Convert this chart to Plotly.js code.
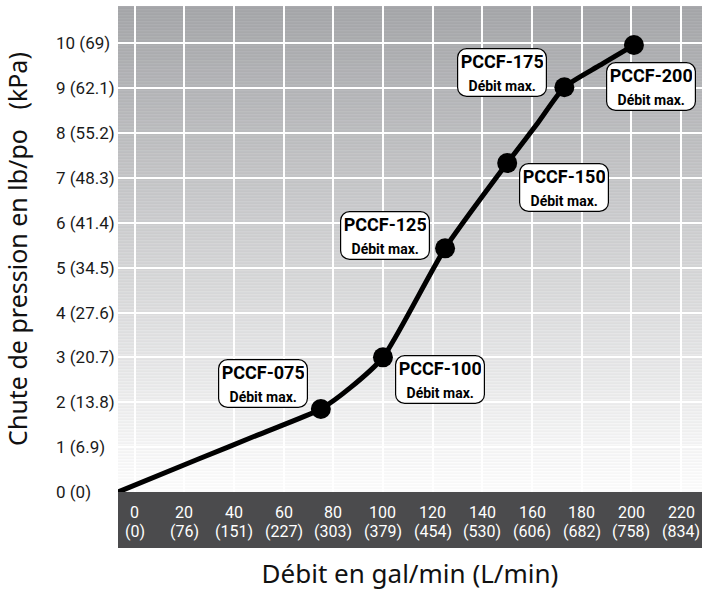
<!DOCTYPE html>
<html>
<head>
<meta charset="utf-8">
<script src="https://cdn.plot.ly/plotly-3.0.1.min.js"></script>
<style>
  html, body { margin: 0; padding: 0; background: #ffffff; }
  #chart { width: 702px; height: 591px; }
</style>
</head>
<body>
<div id="chart"></div>
<script>
// ---- data ----
// curve (gal/min, psi)
var curveFlow = [-6.6, 26, 50, 75, 87, 100, 125, 150, 162, 173, 187, 201];
var curvePsi  = [0, 0.74, 1.28, 1.85, 2.33, 3.0, 5.43, 7.33, 8.2, 9.02, 9.5, 9.96];
// rated points (max flow per model)
var modelNames = ["PCCF-075", "PCCF-100", "PCCF-125", "PCCF-150", "PCCF-175", "PCCF-200"];
var modelFlow  = [75, 100, 125, 150, 173, 201];
var modelPsi   = [1.85, 3.0, 5.43, 7.33, 9.02, 9.96];
var labelSub   = "Débit max.";
// tick labels
var xTickVals  = [0, 20, 40, 60, 80, 100, 120, 140, 160, 180, 200, 220];
var xTickLmin  = ["(0)", "(76)", "(151)", "(227)", "(303)", "(379)", "(454)", "(530)", "(606)", "(682)", "(758)", "(834)"];
var yTickVals  = [0, 1, 2, 3, 4, 5, 6, 7, 8, 9, 10];
var yTickKpa   = ["(0)", "(6.9)", "(13.8)", "(20.7)", "(27.6)", "(34.5)", "(41.4)", "(48.3)", "(55.2)", "(62.1)", "(69)"];
var xTitle = "Débit en gal/min (L/min)";
var yTitle = "Chute de pression en lb/po\u00A0\u00A0\u00A0(kPa)";

// ---- styling / layout ----
var narrow = "Roboto, Liberation Sans, sans-serif";
var plotH = 486;
// label box offsets (px) from each rated point
var boxShiftX = [-58, 57, -60, 57, -62, 17];
var boxShiftY = [25, -22, 13, -24, 15, -41];

var shapes = [];
// gradient + fine stripes background
var nBands = 162;
function mix(a, b, t) { return Math.round(a + (b - a) * t); }
for (var i = 0; i < nBands; i++) {
  var t = (i + 0.5) / nBands; // 0 bottom -> 1 top
  var r = mix(250, 163, t), g = mix(250, 164, t), b = mix(250, 167, t);
  shapes.push({type: "rect", xref: "paper", yref: "paper", x0: 0, x1: 1,
    y0: i / nBands, y1: (i + 1) / nBands, line: {width: 0},
    fillcolor: "rgb(" + r + "," + g + "," + b + ")", layer: "below"});
  var lr = Math.min(255, r + 9), lg = Math.min(255, g + 9), lb = Math.min(255, b + 9);
  shapes.push({type: "rect", xref: "paper", yref: "paper", x0: 0, x1: 1,
    y0: (i + 0.62) / nBands, y1: (i + 0.95) / nBands, line: {width: 0},
    fillcolor: "rgb(" + lr + "," + lg + "," + lb + ")", layer: "below"});
}
// dark axis band
shapes.push({type: "rect", xref: "paper", yref: "paper", x0: 0, x1: 1,
  y0: -56 / plotH, y1: 0, line: {width: 0}, fillcolor: "#4b4b4d", layer: "below"});

var annotations = [];
for (var k = 0; k < modelNames.length; k++) {
  annotations.push({
    x: modelFlow[k], y: modelPsi[k], xref: "x", yref: "y",
    xshift: boxShiftX[k], yshift: boxShiftY[k], showarrow: false,
    text: "<b>" + modelNames[k] + "</b><br><b><span style='font-size:14px'>" + labelSub + "</span></b>",
    font: {family: narrow, size: 18, color: "#000000"},
    width: 82, height: 41,
    bgcolor: "#ffffff", bordercolor: "#000000", borderwidth: 1.2, borderpad: 3,
    align: "center", valign: "middle", xanchor: "center", yanchor: "middle"
  });
}
for (var j = 0; j < xTickVals.length; j++) {
  annotations.push({x: xTickVals[j], y: -20 / plotH, xref: "x", yref: "paper",
    text: String(xTickVals[j]), showarrow: false, xanchor: "center", yanchor: "middle",
    font: {family: narrow, size: 16, color: "#ffffff"}});
  annotations.push({x: xTickVals[j], y: -39 / plotH, xref: "x", yref: "paper",
    text: xTickLmin[j], showarrow: false, xanchor: "center", yanchor: "middle",
    font: {family: narrow, size: 16, color: "#ffffff"}});
}
for (var m = 0; m < yTickVals.length; m++) {
  annotations.push({x: -64 / 584, y: yTickVals[m], xref: "paper", yref: "y",
    text: yTickVals[m] + " " + yTickKpa[m], showarrow: false, xanchor: "left", yanchor: "middle",
    font: {family: narrow, size: 17, color: "#1a1a1a"}});
}

var traces = [
  {x: curveFlow, y: curvePsi, type: "scatter", mode: "lines",
   line: {color: "#000000", width: 5, shape: "spline", smoothing: 0.6},
   hoverinfo: "skip", cliponaxis: false},
  {x: modelFlow, y: modelPsi, type: "scatter", mode: "markers",
   marker: {color: "#000000", size: 20}, text: modelNames, cliponaxis: false}
];

var layout = {
  width: 702, height: 591,
  margin: {l: 118, r: 0, t: 6, b: 99, pad: 0},
  paper_bgcolor: "#ffffff",
  plot_bgcolor: "rgba(0,0,0,0)",
  showlegend: false,
  font: {family: "Noto Sans, Open Sans, sans-serif", color: "#111111"},
  xaxis: {range: [-6.64, 228.4], tickvals: xTickVals, showticklabels: false,
    showgrid: true, gridcolor: "#ffffff", gridwidth: 2, zeroline: false,
    showline: false, ticks: "", fixedrange: true,
    title: {text: xTitle, font: {family: "Noto Sans, Open Sans, sans-serif", size: 26, color: "#111111"}, standoff: 73}},
  yaxis: {range: [0, 10.83], tickvals: yTickVals, showticklabels: false,
    showgrid: true, gridcolor: "#ffffff", gridwidth: 2, zeroline: false,
    showline: false, ticks: "", fixedrange: true,
    title: {text: yTitle, font: {family: "Noto Sans, Open Sans, sans-serif", size: 25, color: "#111111"}, standoff: 83}},
  shapes: shapes,
  annotations: annotations
};

Plotly.newPlot("chart", traces, layout, {displayModeBar: false, staticPlot: true}).then(function () {
  var rects = document.querySelectorAll(".annotation rect.bg");
  rects.forEach(function (r) {
    if (r.getAttribute("style") && r.getAttribute("style").indexOf("stroke-width: 0") === -1) {
      r.setAttribute("rx", 9); r.setAttribute("ry", 9);
    }
  });
});
</script>
</body>
</html>
